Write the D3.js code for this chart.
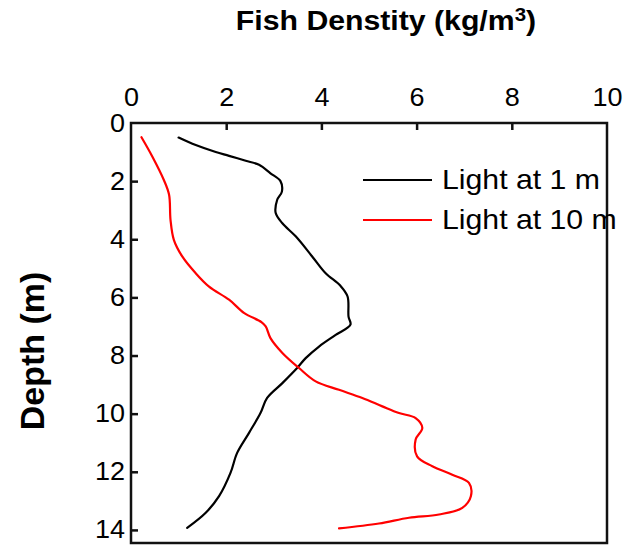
<!DOCTYPE html>
<html>
<head>
<meta charset="utf-8">
<script src="https://cdn.jsdelivr.net/npm/d3@7"></script>
<style>
  html, body { margin: 0; padding: 0; background: #fff; }
  svg { display: block; }
  text { font-family: "Liberation Sans", Arial, Helvetica, sans-serif; fill: #000; }
</style>
</head>
<body>
<svg id="chart" width="638" height="546"></svg>
<script>
// ---- data ----
const seriesNames = ["Light at 1 m", "Light at 10 m"];
const seriesColors = ["#000000", "#ff0000"];

const depth1m = [0.5, 0.76, 1.0, 1.13, 1.3, 1.44, 1.73, 2.0, 2.36, 2.65, 3.1, 3.45, 3.9, 4.6, 5.17, 5.6, 5.97, 6.66, 6.94, 7.29, 7.69, 8.09, 8.43, 8.95, 9.46, 9.98, 10.66, 11.35, 12.04, 12.84, 13.41, 13.93];
const density1m = [1.0, 1.36, 1.78, 2.06, 2.41, 2.69, 2.93, 3.14, 3.17, 3.07, 3.04, 3.18, 3.46, 3.81, 4.09, 4.4, 4.55, 4.57, 4.61, 4.3, 3.95, 3.67, 3.49, 3.18, 2.86, 2.72, 2.48, 2.23, 2.09, 1.85, 1.57, 1.18];

const depth10m = [0.49, 1.16, 1.96, 2.47, 3.33, 4.02, 4.6, 5.17, 5.63, 6.08, 6.54, 6.85, 7.0, 7.4, 7.91, 8.43, 8.89, 9.18, 9.46, 9.75, 9.98, 10.15, 10.49, 10.89, 11.47, 11.81, 12.1, 12.38, 12.84, 13.24, 13.47, 13.58, 13.78, 13.95];
const density10m = [0.22, 0.45, 0.69, 0.8, 0.83, 0.9, 1.08, 1.36, 1.64, 2.06, 2.38, 2.74, 2.83, 2.93, 3.18, 3.53, 3.88, 4.37, 4.86, 5.28, 5.63, 5.98, 6.12, 5.98, 6.01, 6.33, 6.75, 7.1, 7.14, 6.96, 6.47, 5.84, 5.21, 4.37];

const xTicks = [0, 2, 4, 6, 8, 10];
const yTicks = [0, 2, 4, 6, 8, 10, 12, 14];

// ---- layout ----
const svg = d3.select("#chart");
const L = 131, R = 607, T = 123, B = 543;
const SX = 1.08; // horizontal text stretch seen in the reference

const x = d3.scaleLinear().domain([0, 10]).range([L, R]);
const y = d3.scaleLinear().domain([0, 14.45]).range([T, B]);

function stretch(sel, cx, cy) {
  sel.attr("transform", `translate(${cx},${cy}) scale(${SX},1) translate(${-cx},${-cy})`);
}

// top axis
const xAxis = d3.axisTop(x).tickValues(xTicks).tickSize(-7).tickPadding(12).tickFormat(d3.format("d"));
const gx = svg.append("g").attr("transform", `translate(0,${T})`).call(xAxis);
gx.select(".domain").remove();
gx.selectAll(".tick line").attr("stroke", "#111").attr("stroke-width", 2.5);
gx.selectAll(".tick text").attr("font-size", 25).attr("fill", "#000")
  .attr("dy", 0).attr("y", -17).attr("transform", `scale(${SX},1)`);
gx.selectAll(".tick").filter(d => d === 0 || d === 10).select("line").remove();

// left axis
const yAxis = d3.axisLeft(y).tickValues(yTicks).tickSize(-7).tickPadding(7).tickFormat(d3.format("d"));
const gy = svg.append("g").attr("transform", `translate(${L},0)`).call(yAxis);
gy.select(".domain").remove();
gy.selectAll(".tick line").attr("stroke", "#111").attr("stroke-width", 2.5);
gy.selectAll(".tick text").attr("font-size", 25).attr("fill", "#000").attr("x", -6)
  .each(function() { stretch(d3.select(this), -6, 0); });
gy.selectAll(".tick").filter(d => d === 0).select("line").remove();

// frame
svg.append("rect").attr("x", L).attr("y", T).attr("width", R - L).attr("height", B - T)
  .attr("fill", "none").attr("stroke", "#111").attr("stroke-width", 2.5);

// lines
const series = [
  { name: seriesNames[0], color: seriesColors[0], pts: depth1m.map((d, i) => [density1m[i], d]) },
  { name: seriesNames[1], color: seriesColors[1], pts: depth10m.map((d, i) => [density10m[i], d]) }
];
const line = d3.line().x(p => x(p[0])).y(p => y(p[1])).curve(d3.curveCatmullRom.alpha(0.5));
series.forEach(s => {
  svg.append("path").datum(s.pts).attr("d", line)
    .attr("fill", "none").attr("stroke", s.color).attr("stroke-width", 2.2)
    .attr("stroke-linejoin", "round").attr("stroke-linecap", "round");
});

// legend
const leg = svg.append("g");
series.forEach((s, i) => {
  const ly = 180 + i * 40;
  leg.append("line").attr("x1", 363).attr("x2", 432).attr("y1", ly).attr("y2", ly)
    .attr("stroke", s.color).attr("stroke-width", 2.2);
  const t = leg.append("text").attr("x", 442).attr("y", ly + 9).attr("font-size", 28).text(s.name);
  stretch(t, 442, ly + 9);
});

// title
const title = svg.append("text").attr("x", 386).attr("y", 30).attr("text-anchor", "middle")
  .attr("font-size", 28).attr("font-weight", "bold");
title.append("tspan").text("Fish Denstity (kg/m");
title.append("tspan").attr("font-size", 19).attr("dy", -9).text("3");
title.append("tspan").attr("dy", 9).text(")");
stretch(title, 386, 30);

// y label
svg.append("text").attr("transform", "translate(44,351) rotate(-90)")
  .attr("text-anchor", "middle").attr("font-size", 34).attr("font-weight", "bold")
  .text("Depth (m)");
</script>
</body>
</html>
